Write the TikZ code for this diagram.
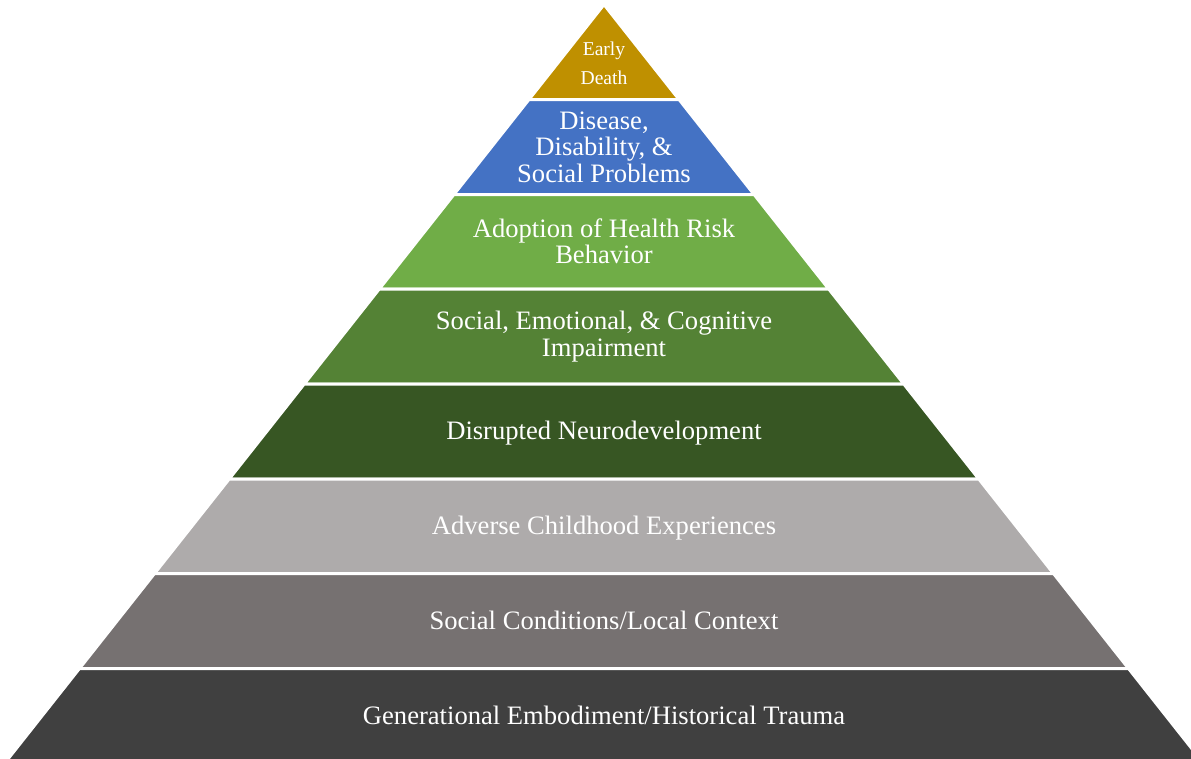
\documentclass[tikz,border=0pt]{standalone}
\usepackage{fontspec}
\setmainfont{Liberation Serif}
\definecolor{tierGold}{HTML}{BF9000}
\definecolor{tierBlue}{HTML}{4472C4}
\definecolor{tierLightGreen}{HTML}{70AD47}
\definecolor{tierGreen}{HTML}{548235}
\definecolor{tierDarkGreen}{HTML}{375623}
\definecolor{tierLightGray}{HTML}{AEABAB}
\definecolor{tierGray}{HTML}{767171}
\definecolor{tierDarkGray}{HTML}{404040}
\tikzset{
  layer/.style={draw=white, line width=3pt, line join=miter},
  lbl/.style={text=white, align=center, inner sep=0pt,
    font=\fontsize{26.6}{26.5}\selectfont},
  lblsmall/.style={text=white, align=center, inner sep=0pt,
    font=\fontsize{19.6}{29}\selectfont},
}
\begin{document}
\begin{tikzpicture}[x=1pt,y=-1pt]
\useasboundingbox (0,0) rectangle (1191,758);
\clip (0,0) rectangle (1191,758);
% apex and slope of the pyramid sides (x per unit of height)
\def\ax{604}\def\ay{4.5}\def\sl{0.79}
\foreach \t/\b/\c in {4.5/99.5/tierGold, 99.5/194.5/tierBlue,
    194.5/289/tierLightGreen, 289/384/tierGreen, 384/479/tierDarkGreen,
    479/573.5/tierLightGray, 573.5/668.5/tierGray, 668.5/775/tierDarkGray}{
  \pgfmathsetmacro\lt{\ax-\sl*(\t-\ay)}
  \pgfmathsetmacro\rt{\ax+\sl*(\t-\ay)}
  \pgfmathsetmacro\lb{\ax-\sl*(\b-\ay)}
  \pgfmathsetmacro\rb{\ax+\sl*(\b-\ay)}
  \filldraw[layer, fill=\c] (\lt,\t) -- (\rt,\t) -- (\rb,\b) -- (\lb,\b) -- cycle;
}
\node[lblsmall] (early) at (604,63.5) {Early\\Death};
\node[lbl] (disease) at (604,147) {Disease,\\Disability, \&\\Social Problems};
\node[lbl] (adoption) at (604,241.5) {Adoption of Health Risk\\Behavior};
\node[lbl] (impairment) at (604,336.5) {Social, Emotional, \& Cognitive\\Impairment};
\node[lbl] (neuro) at (604,433.5) {Disrupted Neurodevelopment};
\node[lbl] (ace) at (604,528.5) {Adverse Childhood Experiences};
\node[lbl] (context) at (604,620.5) {Social Conditions/Local Context};
\node[lbl] (trauma) at (604,715.5) {Generational Embodiment/Historical Trauma};
\end{tikzpicture}
\end{document}
